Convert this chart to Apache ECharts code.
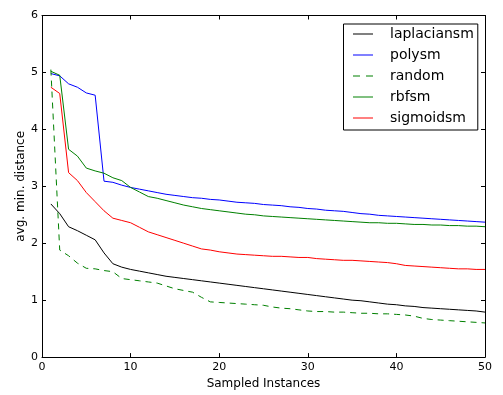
<!DOCTYPE html>
<html>
<head>
<meta charset="utf-8">
<script src="https://cdn.jsdelivr.net/npm/echarts@6/dist/echarts.min.js"></script>
<style>html,body{margin:0;padding:0;background:#fff;}#c{width:503px;height:395px;}</style>
</head>
<body>
<div id="c"></div>
<script>
const xs = [1,2,3,4,5,6,7,8,9,10,11,12,13,14,15,16,17,18,19,20,21,22,23,24,25,26,27,28,29,30,31,32,33,34,35,36,37,38,39,40,41,42,43,44,45,46,47,48,49,50];
const laplaciansm = [2.69,2.52,2.29,2.22,2.14,2.06,1.83,1.64,1.58,1.54,1.51,1.48,1.45,1.42,1.40,1.38,1.36,1.34,1.32,1.30,1.28,1.26,1.24,1.22,1.20,1.18,1.16,1.14,1.12,1.10,1.08,1.06,1.04,1.02,1.00,0.99,0.97,0.95,0.93,0.92,0.90,0.89,0.87,0.86,0.85,0.84,0.83,0.82,0.81,0.79];
const polysm = [4.98,4.94,4.80,4.74,4.64,4.60,3.09,3.07,3.02,2.98,2.95,2.92,2.89,2.86,2.84,2.82,2.80,2.79,2.77,2.76,2.74,2.72,2.71,2.70,2.68,2.67,2.66,2.64,2.63,2.61,2.60,2.58,2.57,2.56,2.54,2.52,2.51,2.49,2.48,2.47,2.46,2.45,2.44,2.43,2.42,2.41,2.40,2.39,2.38,2.37];
const random = [5.05,1.88,1.78,1.65,1.56,1.55,1.52,1.50,1.38,1.36,1.34,1.32,1.30,1.25,1.20,1.17,1.14,1.05,0.97,0.96,0.95,0.94,0.93,0.92,0.91,0.88,0.86,0.85,0.83,0.81,0.80,0.80,0.79,0.79,0.78,0.77,0.77,0.76,0.76,0.75,0.74,0.72,0.68,0.66,0.65,0.64,0.63,0.62,0.61,0.60];
const rbfsm = [5.02,4.95,3.65,3.53,3.32,3.27,3.23,3.15,3.10,2.98,2.90,2.82,2.79,2.75,2.71,2.67,2.64,2.61,2.59,2.57,2.55,2.53,2.51,2.50,2.48,2.47,2.46,2.45,2.44,2.43,2.42,2.41,2.40,2.39,2.38,2.37,2.36,2.36,2.35,2.35,2.34,2.33,2.33,2.32,2.32,2.31,2.31,2.30,2.30,2.29];
const sigmoidsm = [4.74,4.63,3.24,3.10,2.89,2.73,2.57,2.44,2.40,2.36,2.28,2.20,2.15,2.10,2.05,2.00,1.95,1.90,1.88,1.85,1.83,1.81,1.80,1.79,1.78,1.77,1.77,1.76,1.75,1.75,1.73,1.72,1.71,1.70,1.70,1.69,1.68,1.67,1.66,1.64,1.61,1.60,1.59,1.58,1.57,1.56,1.55,1.55,1.54,1.54];
const seriesNames = ['laplaciansm','polysm','random','rbfsm','sigmoidsm'];
const seriesData = [laplaciansm, polysm, random, rbfsm, sigmoidsm];
const colors = ['#000000','#0000ff','#008000','#008000','#ff0000'];
const dashed = [false,false,true,false,false];
const xName = 'Sampled Instances';
const yName = 'avg. min. distance';

const FONT = 'DejaVu Sans';
const chart = echarts.init(document.getElementById('c'), null, {renderer:'canvas'});
const axisLine = {show:true, onZero:false, lineStyle:{color:'#000', width:1}};
const tick = {show:true, inside:true, length:4, lineStyle:{color:'#000', width:1}};
const lineTypes = dashed.map(d => d ? [6,5] : 'solid');
const ICON_SOLID = 'path://M0,0H20V1H0Z';
const ICON_DASH = 'path://M0,0H7V1H0Z M13,0H20V1H13Z';
chart.setOption({
  animation:false,
  backgroundColor:'#fff',
  grid:{left:42, right:18, top:15.5, bottom:36},
  legend:{
    orient:'vertical', left:343.5, top:24,
    padding:[3,4,5,9.5],
    borderColor:'#000', borderWidth:1, backgroundColor:'#fff',
    itemWidth:20, itemHeight:1, itemGap:7,
    textStyle:{fontFamily:FONT, fontSize:14, color:'#000', lineHeight:14, padding:[0,0,0,12]},
    data:seriesNames.map((n,i)=>({name:n, icon: dashed[i] ? ICON_DASH : ICON_SOLID,
      itemStyle:{color:colors[i], borderWidth:0}}))
  },
  xAxis:[
    {type:'value', min:0, max:50, interval:10, position:'bottom',
     name:xName, nameLocation:'middle', nameGap:19,
     nameTextStyle:{fontFamily:FONT, fontSize:12, color:'#000'},
     axisLine:axisLine, axisTick:tick, splitLine:{show:false},
     axisLabel:{fontFamily:FONT, fontSize:11, color:'#000', margin:5}},
    {type:'value', min:0, max:50, interval:10, position:'top',
     axisLine:axisLine, axisTick:tick, splitLine:{show:false}, axisLabel:{show:false}}
  ],
  yAxis:[
    {type:'value', min:0, max:6, interval:1, position:'left',
     name:yName, nameLocation:'middle', nameGap:15, nameMoveOverlap:false,
     nameTextStyle:{fontFamily:FONT, fontSize:12, color:'#000'},
     axisLine:axisLine, axisTick:tick, splitLine:{show:false},
     axisLabel:{fontFamily:FONT, fontSize:11, color:'#000', margin:4}},
    {type:'value', min:0, max:6, interval:1, position:'right',
     axisLine:axisLine, axisTick:tick, splitLine:{show:false}, axisLabel:{show:false}}
  ],
  series: seriesNames.map((n,i)=>({
    name:n, type:'line', symbol:'none', showSymbol:false,
    data: xs.map((x,j)=>[x, seriesData[i][j]]),
    lineStyle:{color:colors[i], width:1, type: lineTypes[i]},
    itemStyle:{color:colors[i]},
    emphasis:{disabled:true},
    z: 2+i
  }))
});
</script>
</body>
</html>
